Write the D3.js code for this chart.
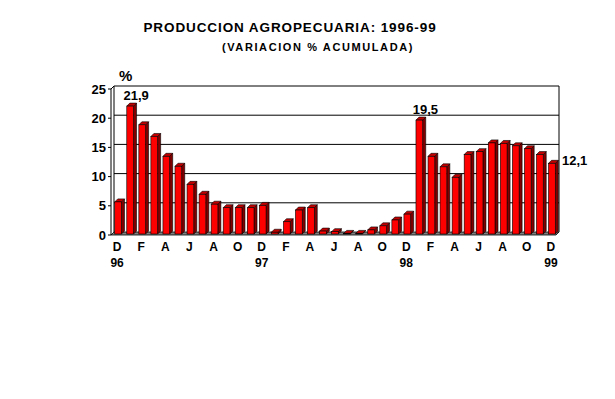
<!DOCTYPE html>
<html>
<head>
<meta charset="utf-8">
<script src="https://cdn.jsdelivr.net/npm/d3@7"></script>
<style>
  body { margin: 0; background: #fff; }
  text { font-family: "Liberation Sans", Arial, sans-serif; font-weight: bold; fill: #000; }
</style>
</head>
<body>
<div id="chart"></div>
<script>
// months Dic-96 .. Dic-99
const categories = [
  "D96",
  "E97","F97","M97","A97","M97b","J97","J97b","A97b","S97","O97","N97","D97",
  "E98","F98","M98","A98","M98b","J98","J98b","A98b","S98","O98","N98","D98",
  "E99","F99","M99","A99","M99b","J99","J99b","A99b","S99","O99","N99","D99"
];
const values = [
  5.5,
  21.9, 18.7, 16.7, 13.3, 11.6, 8.5, 6.8, 5.1, 4.5, 4.5, 4.5, 4.9,
  0.3, 2.1, 4.1, 4.5, 0.5, 0.4, 0.1, 0.1, 0.7, 1.4, 2.4, 3.4,
  19.5, 13.3, 11.5, 9.7, 13.6, 14.1, 15.6, 15.5, 15.1, 14.6, 13.6, 12.1
];
const monthTicks = ["D","F","A","J","A","O","D","F","A","J","A","O","D","F","A","J","A","O","D"];
const yearTicks = ["96","97","98","99"];
const yTicks = [0, 5, 10, 15, 20, 25];
const labelled = [1, 25, 36]; // bars carrying a data label

const W = 615, H = 399;
const depth = 3;

const svg = d3.select("#chart").append("svg")
  .attr("width", W).attr("height", H);

const x = d3.scaleBand().domain(categories)
  .range([111, 559]).paddingInner(0.44).paddingOuter(0.31);
const y = d3.scaleLinear().domain([0, 25]).range([232, 86]);

const left = 111, right = 559;

// titles
svg.append("text").attr("x", 290).attr("y", 32)
  .attr("text-anchor", "middle").style("font-size", "13.5px").style("letter-spacing", "0.9px")
  .text("PRODUCCION AGROPECUARIA: 1996-99");
svg.append("text").attr("x", 318).attr("y", 51)
  .attr("text-anchor", "middle").style("font-size", "11px").style("letter-spacing", "1.6px")
  .text("(VARIACION % ACUMULADA)");
svg.append("text").attr("x", 119).attr("y", 81)
  .style("font-size", "15px").text("%");

// back wall gridlines
svg.append("g").selectAll("line")
  .data(yTicks.filter(d => d > 0))
  .join("line")
  .attr("x1", left + depth).attr("x2", right)
  .attr("y1", d => y(d)).attr("y2", d => y(d))
  .attr("stroke", "#000").attr("stroke-width", 1);

// back wall edges
svg.append("line").attr("x1", left + depth).attr("x2", left + depth)
  .attr("y1", y(25)).attr("y2", y(0)).attr("stroke", "#000");
svg.append("line").attr("x1", right).attr("x2", right)
  .attr("y1", y(25)).attr("y2", y(0)).attr("stroke", "#000");

// floor
svg.append("path")
  .attr("d", `M${left},${y(0) + depth}L${right - depth},${y(0) + depth}L${right},${y(0)}L${left + depth},${y(0)}Z`)
  .attr("fill", "#808080").attr("stroke", "#000").attr("stroke-width", 0.8);

// front value axis
svg.append("line").attr("x1", left).attr("x2", left)
  .attr("y1", y(25) + depth).attr("y2", y(0) + depth).attr("stroke", "#000");
svg.append("line").attr("x1", left).attr("x2", left + depth)
  .attr("y1", y(25) + depth).attr("y2", y(25)).attr("stroke", "#000");
const yAxisG = svg.append("g");
yAxisG.selectAll("line").data(yTicks).join("line")
  .attr("x1", left - 3).attr("x2", left)
  .attr("y1", d => y(d) + depth).attr("y2", d => y(d) + depth)
  .attr("stroke", "#000");
yAxisG.selectAll("text").data(yTicks).join("text")
  .attr("x", left - 5).attr("y", d => y(d) + depth)
  .attr("dy", "0.36em").attr("text-anchor", "end")
  .style("font-size", "13px")
  .text(d => d);

// bars
const w = x.bandwidth();
const bars = svg.append("g").selectAll("g")
  .data(values.map((v, i) => ({ v, c: categories[i], i })))
  .join("g");
const yb = y(0) + depth - 1;
bars.append("path") // side
  .attr("d", d => {
    const x0 = x(d.c) + w, yt = y(d.v) + 2;
    return `M${x0},${yt}L${x0 + depth},${yt - depth}L${x0 + depth},${yb - depth}L${x0},${yb}Z`;
  })
  .attr("fill", "#800000").attr("stroke", "#000").attr("stroke-width", 0.6);
bars.append("path") // top
  .attr("d", d => {
    const x0 = x(d.c), yt = y(d.v) + 2;
    return `M${x0},${yt}L${x0 + depth},${yt - depth}L${x0 + w + depth},${yt - depth}L${x0 + w},${yt}Z`;
  })
  .attr("fill", "#c00000").attr("stroke", "#000").attr("stroke-width", 0.6);
bars.append("rect") // front
  .attr("x", d => x(d.c)).attr("width", w)
  .attr("y", d => y(d.v) + 2)
  .attr("height", d => Math.max(0, yb - y(d.v) - 2))
  .attr("fill", "#ff0000").attr("stroke", "#000").attr("stroke-width", 0.6);

// data labels
const fmt = v => v.toFixed(1).replace(".", ",");
svg.append("g").selectAll("text")
  .data(labelled)
  .join("text")
  .attr("x", i => i === values.length - 1 ? right + 3 : x(categories[i]) + w / 2 + 6)
  .attr("y", i => i === values.length - 1 ? y(values[i]) + 4 : y(values[i]) - 4)
  .attr("text-anchor", i => i === values.length - 1 ? "start" : "middle")
  .style("font-size", "13px")
  .text(i => fmt(values[i]));

// category axis
const tickIdx = categories.map((c, i) => i).filter(i => i % 2 === 0);
svg.append("g").selectAll("text")
  .data(tickIdx)
  .join("text")
  .attr("x", i => x(categories[i]) + w / 2 - 1)
  .attr("y", 251)
  .attr("text-anchor", "middle")
  .style("font-size", "12px")
  .text((i, k) => monthTicks[k]);
svg.append("g").selectAll("text")
  .data(categories.map((c, i) => i).filter(i => i % 12 === 0))
  .join("text")
  .attr("x", i => x(categories[i]) + w / 2 - 1)
  .attr("y", 267)
  .attr("text-anchor", "middle")
  .style("font-size", "12px")
  .text((i, k) => yearTicks[k]);
</script>
</body>
</html>
